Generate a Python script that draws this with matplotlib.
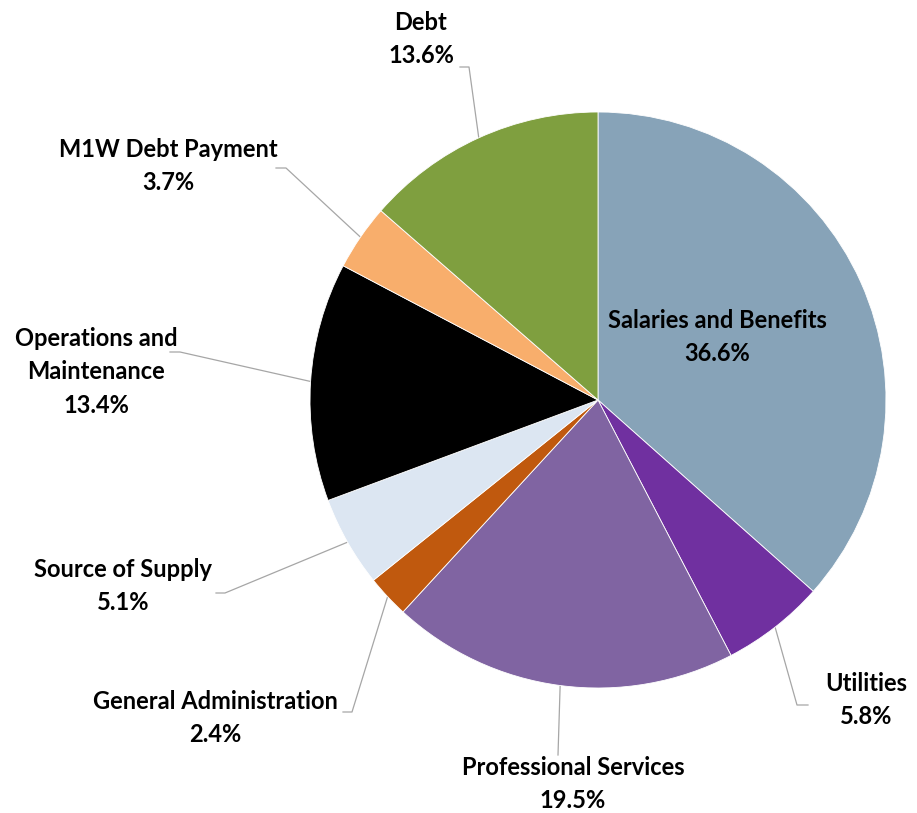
import matplotlib.pyplot as plt
import numpy as np

# Budget shares (percent), clockwise from 12 o'clock
categories = ["Salaries and Benefits", "Utilities", "Professional Services",
              "General Administration", "Source of Supply",
              "Operations and\nMaintenance", "M1W Debt Payment", "Debt"]
shares = [36.6, 5.8, 19.5, 2.4, 5.1, 13.4, 3.7, 13.6]
colors = ["#87A3B8", "#7030A0", "#8064A2", "#C0590E", "#DCE6F2",
          "#000000", "#F8AE6C", "#7F9F3F"]

W, H = 917, 813
fig = plt.figure(figsize=(W / 100, H / 100), dpi=100)
ax = fig.add_axes([0, 0, 1, 1])
ax.set_xlim(0, W)
ax.set_ylim(0, H)
ax.set_aspect("equal")
ax.axis("off")

cx, cy, R = 598, H - 400, 288
wedges, _ = ax.pie(shares, colors=colors, startangle=90, counterclock=False,
                   radius=R, center=(cx, cy), frame=True,
                   wedgeprops=dict(edgecolor="white", linewidth=0.6))
ax.set_xlim(0, W)
ax.set_ylim(0, H)
ax.axis("off")

font = dict(family="Lato", fontweight="bold", fontsize=17, color="black")

# label text centre (pixels from top-left) and leader elbow points
label_pos = {
    0: (717, 337),
    1: (866, 700),
    2: (573, 784),
    3: (215, 718),
    4: (123, 586),
    5: (96, 372),
    6: (168, 166),
    7: (421, 39),
}
elbows = {
    1: [(808, 705), (797, 705)],
    2: [(558, 755)],
    3: [(343, 712), (352, 712)],
    4: [(216, 593), (225, 593)],
    5: [(170, 352), (180, 352)],
    6: [(276, 168), (286, 168)],
    7: [(460, 67), (469, 67)],
}

for i, w in enumerate(wedges):
    pct = f"{shares[i]:.1f}%"
    lx, ly = label_pos[i]
    ax.text(lx, H - ly, f"{categories[i]}\n{pct}", ha="center", va="center",
            linespacing=1.55, **font)
    if i in elbows:
        mid = np.deg2rad((w.theta1 + w.theta2) / 2)
        px, py = cx + R * np.cos(mid), cy + R * np.sin(mid)
        pts = [(x, H - y) for x, y in elbows[i]] + [(px, py)]
        xs, ys = zip(*pts)
        ax.plot(xs, ys, color="#A6A6A6", lw=0.9, zorder=0)

fig.savefig("out.png", dpi=100, facecolor="white")
